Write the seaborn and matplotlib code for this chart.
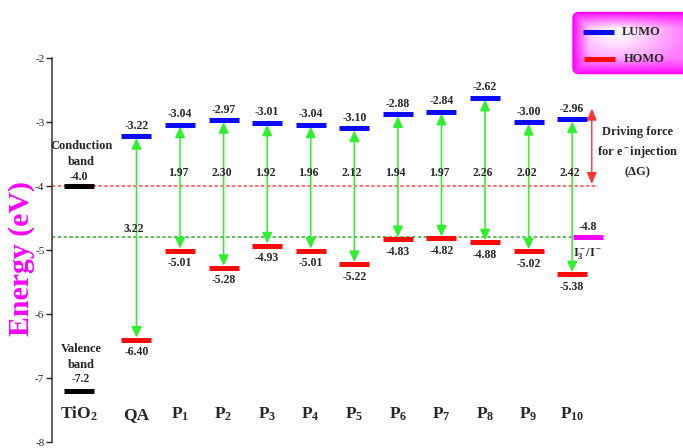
import numpy as np
import pandas as pd
import matplotlib
matplotlib.use("Agg")
import matplotlib.pyplot as plt
from matplotlib.patches import FancyBboxPatch
import seaborn as sns

# ---------------- data ----------------
molecules = ["QA", "P1", "P2", "P3", "P4", "P5", "P6", "P7", "P8", "P9", "P10"]
lumo = [-3.22, -3.04, -2.97, -3.01, -3.04, -3.10, -2.88, -2.84, -2.62, -3.00, -2.96]
homo = [-6.40, -5.01, -5.28, -4.93, -5.01, -5.22, -4.83, -4.82, -4.88, -5.02, -5.38]
gap = [3.22, 1.97, 2.30, 1.92, 1.96, 2.12, 1.94, 1.97, 2.26, 2.02, 2.42]
tio2_cb = -4.0
tio2_vb = -7.2
redox = -4.8
xlabels = ["TiO$_\\mathbf{2}$", "QA", "P$_\\mathbf{1}$", "P$_\\mathbf{2}$", "P$_\\mathbf{3}$",
           "P$_\\mathbf{4}$", "P$_\\mathbf{5}$", "P$_\\mathbf{6}$", "P$_\\mathbf{7}$",
           "P$_\\mathbf{8}$", "P$_\\mathbf{9}$", "P$_\\mathbf{10}$"]
yticks = [-2, -3, -4, -5, -6, -7, -8]

# ---------------- style ----------------
sns.set_style("white")
plt.rcParams["font.family"] = ["Liberation Serif", "DejaVu Serif"]
plt.rcParams["mathtext.fontset"] = "custom"
plt.rcParams["mathtext.rm"] = "Liberation Serif:bold"
plt.rcParams["mathtext.bf"] = "Liberation Serif:bold"
plt.rcParams["mathtext.it"] = "Liberation Serif:italic:bold"
plt.rcParams["axes.unicode_minus"] = False

BLUE = "#0a0aff"
RED = "#ff0a0a"
GREEN = "#2ef02e"
MAGENTA = "#ff00ff"

W, H = 683, 448
fig = plt.figure(figsize=(W / 100, H / 100), dpi=100)
ax = fig.add_axes([52 / W, 6 / H, 631 / W, 384 / H])

# layout: category spacing (pixels) and offsets of the side elements
x0_px, step_px = 92.9, 43.57
ax.set_xlim((52 - x0_px) / step_px, (683 - x0_px) / step_px)
ax.set_ylim(-8, -2)

mol_x = np.arange(1, len(molecules) + 1)
tio2_x = -0.32
redox_x = 11.36

df = pd.DataFrame({"x": mol_x, "lumo": lumo, "homo": homo})
bar_s = 22.3 ** 2
bar_lw = 3.6
sns.scatterplot(data=df, x="x", y="lumo", marker="_", s=bar_s, linewidth=bar_lw,
                color=BLUE, ax=ax, zorder=4, legend=False)
sns.scatterplot(data=df, x="x", y="homo", marker="_", s=bar_s, linewidth=bar_lw,
                color=RED, ax=ax, zorder=4, legend=False)
sns.scatterplot(x=[tio2_x, tio2_x], y=[tio2_cb, tio2_vb], marker="_", s=bar_s,
                linewidth=bar_lw, color="black", ax=ax, zorder=4, legend=False)
sns.scatterplot(x=[redox_x], y=[redox], marker="_", s=bar_s, linewidth=bar_lw,
                color=MAGENTA, ax=ax, zorder=4, legend=False)
ax.set_xlabel("")
ax.set_ylabel("")

# reference lines
xl = ax.get_xlim()
ax.plot([xl[0], 11.59], [tio2_cb, tio2_cb], color="#ff4444", lw=1.1,
        linestyle=(0, (2.2, 1.6)), zorder=1)
ax.plot([xl[0], redox_x - 0.36], [redox, redox], color="#33aa33", lw=1.1,
        linestyle=(0, (2.2, 1.6)), zorder=1)

# green arrows and gap labels
for i, (xv, lo, hi, g) in enumerate(zip(mol_x, homo, lumo, gap)):
    ax.annotate("", xy=(xv, hi), xytext=(xv, lo),
                arrowprops=dict(arrowstyle="<|-|>,head_length=0.65,head_width=0.3",
                                color=GREEN, lw=1.1, shrinkA=1.5, shrinkB=1.5,
                                mutation_scale=10), zorder=2)
    gy = -4.67 if i == 0 else -3.80
    ax.text(xv - 0.05, gy, f"{g:.2f}", ha="center", va="center",
            fontsize=8.5, fontweight="bold", zorder=5)
    ax.annotate(f"{hi:.2f}", (xv, hi), xytext=(0, 7.5), textcoords="offset points",
                ha="center", va="center", fontsize=8.5, fontweight="bold")
    ax.annotate(f"{lo:.2f}", (xv, lo), xytext=(0, -9), textcoords="offset points",
                ha="center", va="center", fontsize=8.5, fontweight="bold")

# TiO2 annotations
tx = tio2_x + 0.05
ax.text(tx, -3.38, "Conduction", ha="center", va="center", fontsize=9, fontweight="bold")
ax.text(tx, -3.63, "band", ha="center", va="center", fontsize=9, fontweight="bold")
ax.text(tio2_x, -3.86, f"{tio2_cb:.1f}", ha="center", va="center", fontsize=8.5, fontweight="bold")
ax.text(tx, -6.54, "Valence", ha="center", va="center", fontsize=9, fontweight="bold")
ax.text(tx, -6.79, "band", ha="center", va="center", fontsize=9, fontweight="bold")
ax.text(tx, -7.02, f"{tio2_vb:.1f}", ha="center", va="center", fontsize=8.5, fontweight="bold")

# redox annotations
ax.annotate(f"{redox:.1f}", (redox_x, redox), xytext=(0, 7.5), textcoords="offset points",
            ha="center", va="center", fontsize=8.5, fontweight="bold")
ax.annotate("I$_3^-$/I$^-$", (redox_x, redox), xytext=(0, -12), textcoords="offset points",
            ha="center", va="center", fontsize=9, fontweight="bold")

# driving force arrow and text
ax.annotate("", xy=(11.45, -2.79), xytext=(11.45, -3.97),
            arrowprops=dict(arrowstyle="<|-|>,head_length=0.7,head_width=0.3",
                            color="#ff3333", lw=1.0, shrinkA=0, shrinkB=0,
                            mutation_scale=10))
ax.text(12.49, -3.15, "Driving force", ha="center", va="center", fontsize=9, fontweight="bold")
ax.text(12.49, -3.47, "for e$^-$injection", ha="center", va="center", fontsize=9, fontweight="bold")
ax.text(12.49, -3.79, "(ΔG)", ha="center", va="center", fontsize=9, fontweight="bold")

# x category labels
for xv, lab in zip([tio2_x] + list(mol_x), xlabels):
    ax.text(xv, -7.64, lab, ha="center", va="baseline", fontsize=12.5, fontweight="bold")

# axes styling
ax.set_xticks([])
ax.set_yticks(yticks)
ax.set_yticklabels([str(t) for t in yticks])
ax.tick_params(axis="y", direction="out", length=4, width=1, labelsize=8, pad=1.5,
               left=True, colors="#222222")
for side in ["top", "right", "bottom"]:
    ax.spines[side].set_visible(False)
ax.spines["left"].set_color("#333333")
ax.spines["left"].set_linewidth(1.1)

fig.text(22 / W, 1 - 259 / H, "Energy (eV)", rotation=90, ha="center", va="center",
         fontsize=21.5, fontweight="bold", color=MAGENTA)

# legend box with gradient
lax = fig.add_axes([572 / W, 1 - 75 / H, 130 / W, 64 / H])
lax.set_xlim(0, 130)
lax.set_ylim(64, 0)
lax.axis("off")
gx, gy = np.meshgrid(np.linspace(0, 130, 260), np.linspace(0, 64, 128))
d = np.minimum.reduce([gx - 1, 129 - gx, gy - 1, 63 - gy])
f = np.clip(d / 16.0, 0, 1) ** 0.8
cx, cy = 45, 22
r = np.sqrt(((gx - cx) / 70) ** 2 + ((gy - cy) / 40) ** 2)
f = np.clip(f * (1.05 - 0.55 * np.clip(r, 0, 1)), 0, 1)
mag = np.array([1.0, 0.0, 1.0])
wht = np.array([1.0, 0.97, 1.0])
img = mag[None, None, :] * (1 - f[..., None]) + wht[None, None, :] * f[..., None]
patch = FancyBboxPatch((1, 1.5), 127, 61, boxstyle="round,pad=0,rounding_size=6",
                       facecolor="none", edgecolor=MAGENTA, lw=1.0, transform=lax.transData)
lax.add_patch(patch)
im = lax.imshow(img, extent=[0, 130, 64, 0], aspect="auto", zorder=0)
im.set_clip_path(patch)
lax.plot([11, 42], [21, 21], color=BLUE, lw=3.6, solid_capstyle="butt")
lax.plot([12, 43], [48, 48], color=RED, lw=3.6, solid_capstyle="butt")
lax.text(50, 21, "LUMO", ha="left", va="center", fontsize=9, fontweight="bold")
lax.text(52, 48, "HOMO", ha="left", va="center", fontsize=9, fontweight="bold")

fig.savefig("out.png", dpi=100)
